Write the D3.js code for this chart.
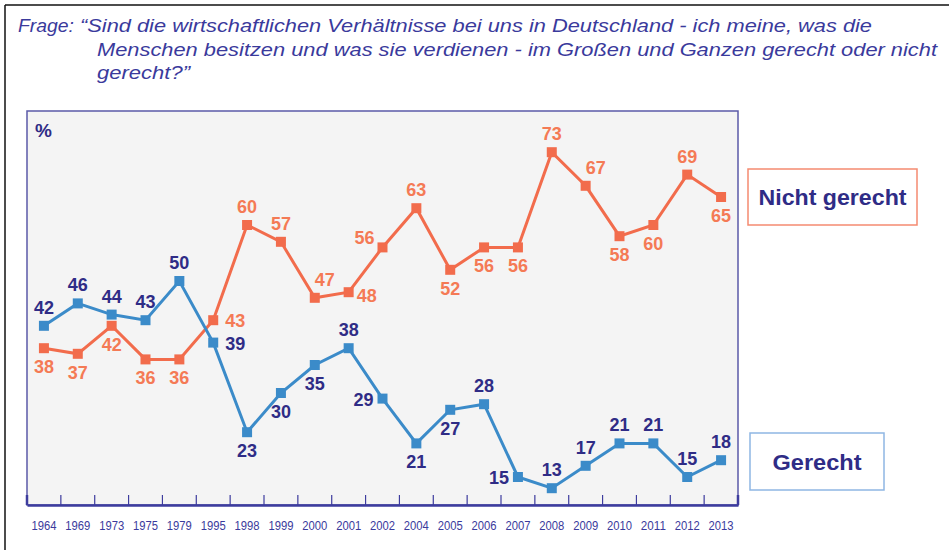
<!DOCTYPE html>
<html><head><meta charset="utf-8">
<script src="https://cdn.jsdelivr.net/npm/d3@7"></script>
<style>
html,body{margin:0;padding:0;background:#fff;}
svg{display:block;}
</style></head>
<body>
<svg id="chart" width="949" height="550"></svg>
<script>
const years = ["1964","1969","1973","1975","1979","1995","1998","1999","2000","2001","2002","2004","2005","2006","2007","2008","2009","2010","2011","2012","2013"];
const gerecht = [42,46,44,43,50,39,23,30,35,38,29,21,27,28,15,13,17,21,21,15,18];
const nichtGerecht = [38,37,42,36,36,43,60,57,47,48,56,63,52,56,56,73,67,58,60,69,65];
const seriesNames = ["Nicht gerecht","Gerecht"];
const titleLines = [
  "Frage:",
  "\u201CSind die wirtschaftlichen Verhältnisse bei uns in Deutschland - ich meine, was die",
  "Menschen besitzen und was sie verdienen - im Großen und Ganzen gerecht oder nicht",
  "gerecht?\u201D"
];
// label placement codes (layout only)
const gerechtPlace = ["a","a","a","a","a","r","b","b","b","a","l","b","b","a","l","a","a","a","a","a","a"];
const nichtPlace   = ["b","b","b","b","b","r","a","a","ar","br","al","a","b","b","b","a","ar","b","b","a","b"];

const W = 949, H = 550;
const svg = d3.select("#chart");
const navy = "#2f2c86", titleCol = "#3a3a9c";
const blue = "#3b8bc9", orange = "#f26c4c", orangeText = "#f47a55";

// outer border
svg.append("line").attr("x1",5).attr("x2",W).attr("y1",5).attr("y2",5).attr("stroke","#111").attr("stroke-width",1.5);
svg.append("line").attr("x1",5).attr("x2",5).attr("y1",5).attr("y2",H).attr("stroke","#111").attr("stroke-width",1.5);

// title
const tf = "'Liberation Sans', Arial, sans-serif";
function titleText(txt, x0, y0, len){
  const t = svg.append("text").attr("x",x0).attr("y",y0).attr("font-family",tf).attr("font-style","italic")
    .attr("font-size",19).attr("fill",titleCol).text(txt);
  if (len) t.attr("textLength",len).attr("lengthAdjust","spacingAndGlyphs");
}
titleText(titleLines[0], 18, 32, 56);
titleText(titleLines[1], 80, 32, 792);
titleText(titleLines[2], 97, 56, 840);
titleText(titleLines[3], 97, 79, 93);

// plot area
const L = 27, R = 738, T = 111, B = 505;
const x = d3.scaleBand().domain(years).range([L,R]).padding(0);
const y = d3.scaleLinear().domain([10,80]).range([B,113]);
const cx = d => x(d) + x.bandwidth()/2;

svg.append("rect").attr("x",L).attr("y",T).attr("width",R-L).attr("height",B-T)
  .attr("fill","#f4f4f4").attr("stroke","#5b5aa8").attr("stroke-width",1.5);

// bottom axis
const axisG = svg.append("g").attr("transform",`translate(0,${B})`)
  .call(d3.axisBottom(x).tickSize(0).tickPadding(16));
axisG.select(".domain").attr("stroke","#3d3c9e").attr("stroke-width",2.5);
axisG.selectAll("text").attr("font-family",tf).attr("font-size",12).attr("fill","#3a3a9c")
  .attr("textLength",25).attr("lengthAdjust","spacingAndGlyphs");
// boundary ticks
svg.append("g").selectAll("line").data(years.slice(1)).join("line")
  .attr("x1",d=>x(d)).attr("x2",d=>x(d)).attr("y1",B-10).attr("y2",B)
  .attr("stroke","#3d3c9e").attr("stroke-width",1.2);
svg.append("line").attr("x1",L).attr("x2",L).attr("y1",B-10).attr("y2",B).attr("stroke","#3d3c9e").attr("stroke-width",2.5);
svg.append("line").attr("x1",R).attr("x2",R).attr("y1",B-10).attr("y2",B).attr("stroke","#3d3c9e").attr("stroke-width",2.5);

svg.append("text").attr("x",35).attr("y",137).attr("font-family",tf).attr("font-weight","bold")
  .attr("font-size",19).attr("fill",navy).text("%");

const line = d3.line().x((d,i)=>cx(years[i])).y(d=>y(d));
const place = {
  a:{anchor:"middle",dx:0,dy:-12},
  b:{anchor:"middle",dx:0,dy:25},
  r:{anchor:"start",dx:12,dy:7},
  l:{anchor:"end",dx:-9,dy:7},
  ar:{anchor:"middle",dx:10,dy:-12},
  br:{anchor:"start",dx:8,dy:10},
  al:{anchor:"end",dx:-8,dy:-3}
};
function drawSeries(vals, color, textColor, pl){
  const g = svg.append("g");
  g.append("path").datum(vals).attr("d",line).attr("fill","none").attr("stroke",color).attr("stroke-width",3).attr("stroke-linejoin","miter");
  g.selectAll("rect").data(vals).join("rect")
    .attr("x",(d,i)=>cx(years[i])-5).attr("y",d=>y(d)-5).attr("width",10).attr("height",10).attr("fill",color);
  g.selectAll("text").data(vals).join("text")
    .attr("x",(d,i)=>cx(years[i])+place[pl[i]].dx)
    .attr("y",(d,i)=>y(d)+place[pl[i]].dy)
    .attr("text-anchor",(d,i)=>place[pl[i]].anchor)
    .attr("font-family",tf).attr("font-weight","bold").attr("font-size",18)
    .attr("fill",textColor).text(d=>d);
}
drawSeries(nichtGerecht, orange, orangeText, nichtPlace);
drawSeries(gerecht, blue, navy, gerechtPlace);

// legend boxes
const legend = [
  {name:seriesNames[0], x0:748, y0:169, w:169, h:56, stroke:"#f58a70", tl:148},
  {name:seriesNames[1], x0:750, y0:433, w:134, h:57, stroke:"#8fb6e3", tl:89}
];
legend.forEach(l=>{
  svg.append("rect").attr("x",l.x0).attr("y",l.y0).attr("width",l.w).attr("height",l.h)
    .attr("fill","#fff").attr("stroke",l.stroke).attr("stroke-width",1.5);
  svg.append("text").attr("x",l.x0+l.w/2).attr("y",l.y0+l.h/2+8).attr("text-anchor","middle")
    .attr("font-family",tf).attr("font-weight","bold").attr("font-size",22).attr("fill",navy)
    .attr("textLength",l.tl).attr("lengthAdjust","spacingAndGlyphs").text(l.name);
});
</script>
</body></html>
